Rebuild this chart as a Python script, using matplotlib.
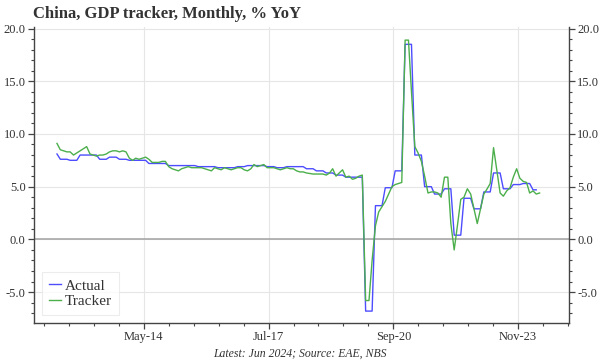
import numpy as np
import pandas as pd
import matplotlib
matplotlib.use("Agg")
import matplotlib.pyplot as plt
from matplotlib.ticker import MultipleLocator, FormatStrFormatter, FixedLocator
import matplotlib.dates as mdates

plt.rcParams['font.family'] = ['Liberation Serif', 'DejaVu Serif']

# Actual GDP, % YoY, quarterly Q1 2012 .. Q2 2024 (shown as monthly steps)
actual_q = [8.1, 7.6, 7.5, 8.0,
            8.0, 7.6, 7.8, 7.6,
            7.5, 7.5, 7.2, 7.2,
            7.0, 7.0, 7.0, 6.9,
            6.9, 6.8, 6.8, 6.9,
            7.0, 7.0, 6.9, 6.8,
            6.9, 6.9, 6.7, 6.5,
            6.3, 6.1, 5.9, 5.9,
            -6.8, 3.2, 4.9, 6.5,
            18.5, 8.0, 5.0, 4.3,
            4.8, 0.4, 3.9, 2.9,
            4.5, 6.3, 4.8, 5.2,
            5.3, 4.7]

# Tracker, % YoY, monthly Mar 2012 .. Jun 2024
tracker = [9.1, 8.5, 8.4, 8.3, 8.3, 8.0, 8.2, 8.4, 8.6, 8.8,             # 2012
           8.1, 8.0, 7.9, 8.0, 8.0, 8.1, 8.3, 8.4, 8.4, 8.3, 8.4, 8.3,   # 2013
           7.7, 7.5, 7.7, 7.6, 7.7, 7.8, 7.6, 7.3, 7.3, 7.3, 7.4, 7.4,   # 2014
           6.9, 6.7, 6.6, 6.5, 6.7, 6.8, 6.9, 6.8, 6.8, 6.8, 6.8, 6.7,   # 2015
           6.6, 6.5, 6.8, 6.7, 6.6, 6.8, 6.7, 6.6, 6.7, 6.8, 6.8, 6.6,   # 2016
           6.5, 6.7, 7.1, 6.9, 7.0, 7.1, 6.8, 6.8, 6.8, 6.7, 6.6, 6.7,   # 2017
           6.8, 6.7, 6.7, 6.5, 6.4, 6.4, 6.3, 6.25, 6.2, 6.2, 6.2, 6.2,  # 2018
           6.1, 6.3, 6.7, 6.0, 6.3, 6.6, 5.9, 6.0, 5.7, 5.8, 6.0, 6.1,   # 2019
           -5.8, -5.8, -2.0, 1.3, 2.6, 3.1, 3.6, 4.3, 5.0, 5.2, 5.3, 5.4,  # 2020
           18.9, 18.9, 14.0, 8.8, 8.2, 7.4, 6.0, 4.4, 4.5, 4.5, 4.4, 4.0,  # 2021
           5.9, 5.9, 1.5, -1.0, 1.3, 3.8, 4.0, 4.8, 4.3, 2.9, 1.5, 2.9,  # 2022
           4.3, 4.8, 5.3, 8.7, 6.6, 4.4, 4.1, 4.6, 4.9, 5.9, 6.7, 5.8,   # 2023
           5.5, 5.4, 4.4, 4.6, 4.3, 4.4]                                 # 2024

months = pd.date_range("2012-03-01", "2024-06-01", freq="MS")
actual = np.repeat(actual_q, 3)[2:149]   # Mar 2012 .. May 2024

major_dates = pd.to_datetime(["2014-05-15", "2017-07-15", "2020-09-15", "2023-11-15"])
major_labels = ["May-14", "Jul-17", "Sep-20", "Nov-23"]

fig = plt.figure(figsize=(6.0, 3.64), dpi=100)
ax = fig.add_axes([0.0567, 0.1135, 0.8917, 0.8125])

ax.plot(months[:len(actual)], actual, color='#4d4dff', lw=1.0, label='Actual', zorder=3)
ax.plot(months, tracker, color='#4caf4c', lw=1.0, label='Tracker', zorder=4)
ax.axhline(0, color='#a8a8a8', lw=1.2, zorder=2)

ax.set_xlim(pd.Timestamp("2011-08-01"), pd.Timestamp("2025-03-01"))
ax.set_ylim(-7.9, 20.15)

# x ticks: majors every 38 months, 4 minors in between
major_num = mdates.date2num(major_dates)
step = major_num[1] - major_num[0]
minor_num = np.arange(major_num[0] - step, major_num[-1] + step, step / 5)
ax.xaxis.set_major_locator(FixedLocator(major_num))
ax.xaxis.set_minor_locator(FixedLocator(minor_num))
ax.set_xticklabels(major_labels)

ax.yaxis.set_major_locator(MultipleLocator(5))
ax.yaxis.set_minor_locator(MultipleLocator(1))
ax.yaxis.set_major_formatter(FormatStrFormatter('%.1f'))

ax.grid(True, which='major', color='#e6e6e6', lw=0.8, zorder=0)
ax.set_axisbelow(True)

ax.spines['top'].set_visible(False)
ax.spines['right'].set_visible(False)
for s in ['left', 'bottom']:
    ax.spines[s].set_color('#444444')
    ax.spines[s].set_linewidth(1.0)

ax.tick_params(axis='both', which='major', length=4, width=0.9, colors='#444444',
               labelsize=9, labelcolor='#333333', pad=2)
ax.tick_params(axis='both', which='minor', length=2.5, width=0.8, colors='#444444')

# right axis copy
ax2 = ax.twinx()
ax2.set_ylim(ax.get_ylim())
ax2.yaxis.set_major_locator(MultipleLocator(5))
ax2.yaxis.set_minor_locator(MultipleLocator(1))
ax2.yaxis.set_major_formatter(FormatStrFormatter('%.1f'))
for s in ['top', 'left', 'bottom']:
    ax2.spines[s].set_visible(False)
ax2.spines['right'].set_color('#444444')
ax2.spines['right'].set_linewidth(1.0)
ax2.tick_params(axis='y', which='major', length=4, width=0.9, colors='#444444',
                labelsize=9, labelcolor='#333333', pad=2)
ax2.tick_params(axis='y', which='minor', length=2.5, width=0.8, colors='#444444')

leg = ax.legend(loc='lower left', fontsize=11, handlelength=0.8, handletextpad=0.25,
                labelspacing=0.12, borderpad=0.45, frameon=True, fancybox=False)
leg.get_frame().set_edgecolor('#e8e8e8')
leg.get_frame().set_linewidth(0.8)
for t in leg.get_texts():
    t.set_color('#333333')

fig.text(0.055, 0.962, "China, GDP tracker, Monthly, % YoY", fontsize=12,
         fontweight='bold', color='#333333', ha='left', va='center')
fig.text(0.5, 0.027, "Latest: Jun 2024; Source: EAE, NBS", fontsize=8.5,
         style='italic', color='#333333', ha='center', va='center')

fig.savefig("out.png", dpi=100)
